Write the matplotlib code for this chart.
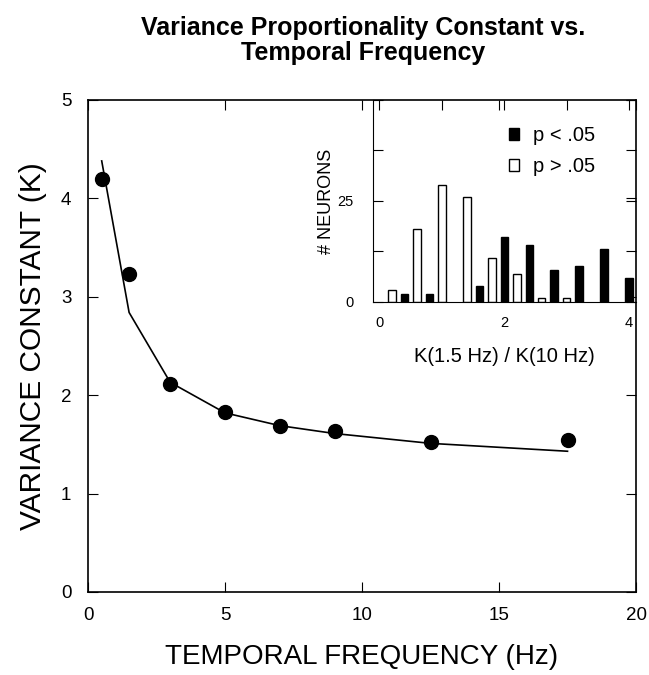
import matplotlib
matplotlib.use('Agg')
import matplotlib.pyplot as plt
from matplotlib.patches import Patch

plt.rcParams['font.family'] = ['Liberation Sans', 'DejaVu Sans']

# Main panel: measured K values and the fitted curve
freq_hz = [0.5, 1.5, 3, 5, 7, 9, 12.5, 17.5]
k_measured = [4.20, 3.23, 2.11, 1.83, 1.69, 1.64, 1.52, 1.54]
k_fit = [4.38, 2.84, 2.13, 1.82, 1.69, 1.61, 1.51, 1.43]

# Inset histogram: K(1.5 Hz)/K(10 Hz) ratios
ratio_sig = [0.4, 0.8, 1.6, 2.0, 2.4, 2.8, 3.2, 3.6, 4.0]
count_sig = [2, 2, 4, 16, 14, 8, 9, 13, 6]
ratio_nonsig = [0.2, 0.6, 1.0, 1.4, 1.8, 2.2, 2.6, 3.0]
count_nonsig = [3, 18, 29, 26, 11, 7, 1, 1]

fig = plt.figure(figsize=(6.49, 6.75), dpi=100)
ax = fig.add_axes([0.1356, 0.123, 0.8444, 0.729])

ax.plot(freq_hz, k_fit, color='black', lw=1.2)
ax.plot(freq_hz, k_measured, 'o', color='black', markersize=10)
ax.set_xlim(0, 20)
ax.set_ylim(0, 5)
ax.set_xticks([0, 5, 10, 15, 20])
ax.set_yticks([0, 1, 2, 3, 4, 5])
ax.tick_params(direction='in', top=True, right=True, labelsize=13.5, length=7)
ax.tick_params(axis='x', pad=11)
ax.tick_params(axis='y', pad=12)
ax.set_xlabel('TEMPORAL FREQUENCY (Hz)', fontsize=20, labelpad=14)
ax.set_ylabel('VARIANCE CONSTANT (K)', fontsize=21.5, labelpad=10)
for s in ax.spines.values():
    s.set_linewidth(1.2)

fig.text(0.56, 0.976, 'Variance Proportionality Constant vs.\nTemporal Frequency',
         ha='center', va='top', fontsize=18, fontweight='bold', linespacing=1.05)

# Inset
ins = fig.add_axes([0.575, 0.5526, 0.405, 0.2994])
ins.bar(ratio_sig, count_sig, width=0.12, color='black', edgecolor='black', lw=1)
ins.bar(ratio_nonsig, count_nonsig, width=0.12, color='white', edgecolor='black', lw=1)
ins.set_xlim(-0.1, 4.11)
ins.set_ylim(0, 50)
ins.set_xticks([0, 1, 2, 3, 4])
ins.set_xticklabels(['0', '', '2', '', '4'])
ins.set_yticks([0, 12.5, 25, 37.5, 50])
ins.set_yticklabels(['0', '', '25', '', ''])
ins.tick_params(direction='in', top=True, right=True, bottom=False, labelsize=10.5, length=7)
ins.tick_params(axis='x', pad=10)
ins.tick_params(axis='y', pad=14)
ins.set_xlabel('K(1.5 Hz) / K(10 Hz)', fontsize=14.5, labelpad=12)
ins.set_ylabel('# NEURONS', fontsize=13, labelpad=2)
ins.spines['top'].set_visible(False)
ins.spines['right'].set_visible(False)
ins.patch.set_alpha(0)

handles = [Patch(facecolor='black', edgecolor='black'),
           Patch(facecolor='white', edgecolor='black')]
ins.legend(handles, ['p < .05', 'p > .05'], loc='upper right', frameon=False,
           fontsize=14.5, handlelength=0.5, handleheight=0.55, handletextpad=0.7,
           labelspacing=0.6, bbox_to_anchor=(0.915, 0.96))

fig.savefig('out.png', dpi=100)
